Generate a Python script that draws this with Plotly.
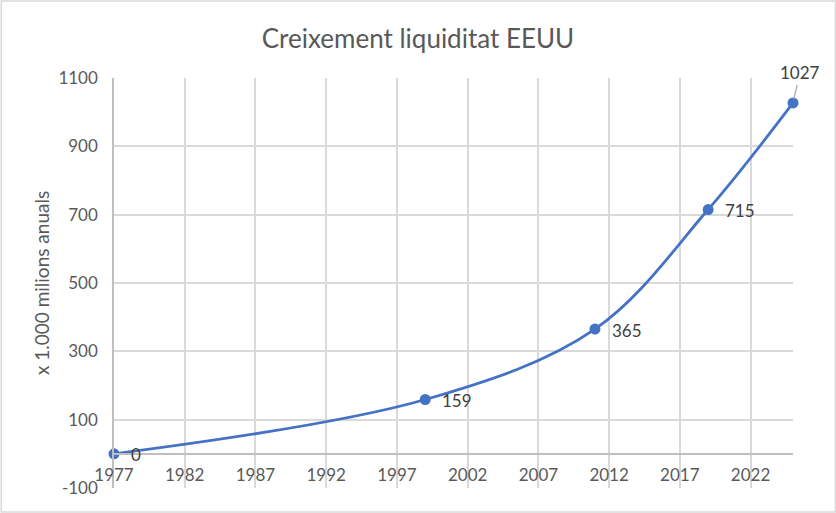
import plotly.graph_objects as go

# data
years = [1977, 1999, 2011, 2019, 2025]
liquidity = [0, 159, 365, 715, 1027]
labels = ["0", "159", "365", "715", "1027"]

x_ticks = [1977, 1982, 1987, 1992, 1997, 2002, 2007, 2012, 2017, 2022]
y_ticks = [-100, 100, 300, 500, 700, 900, 1100]
y_tick_text = ["-100", "100", "300", "500", "700", "900", "1100"]

BLUE = "#4472C4"
GRID = "#d9d9d9"
FONT = "Lato, Calibri, sans-serif"

fig = go.Figure()

fig.add_trace(go.Scatter(
    x=years,
    y=liquidity,
    mode="lines+markers",
    line=dict(color=BLUE, width=2.8, shape="spline", smoothing=1.0),
    marker=dict(color=BLUE, size=11),
    cliponaxis=False,
    hoverinfo="x+y",
))

# data labels: right of the points, the last one above with a leader line
for yr, val, lab in zip(years[:-1], liquidity[:-1], labels[:-1]):
    fig.add_annotation(x=yr, y=val, text=lab, showarrow=False,
                       xanchor="left", xshift=15, yshift=-1,
                       font=dict(family=FONT, size=17, color="#404040"))

fig.add_annotation(
    x=years[-1], y=liquidity[-1], text=labels[-1],
    showarrow=True, arrowhead=0, arrowwidth=1.2, arrowcolor="#a6a6a6",
    ax=7, ay=-30, standoff=4,
    font=dict(family=FONT, size=17, color="#404040"),
)

# chart border
fig.add_shape(type="rect", xref="paper", yref="paper",
              x0=-0.166, x1=1.0625, y0=-0.0585, y1=1.188,
              line=dict(color="#d9d9d9", width=1.5), layer="below")

fig.update_layout(
    width=836, height=513,
    margin=dict(l=114, r=43, t=78, b=25),
    paper_bgcolor="white", plot_bgcolor="white",
    showlegend=False,
    title=dict(text="Creixement liquiditat EEUU", x=0.5, xanchor="center",
               y=0.925, yanchor="middle",
               font=dict(family=FONT, size=26, color="#595959")),
    font=dict(family=FONT, color="#595959"),
)

fig.update_xaxes(
    range=[1977, 2025],
    tickmode="array", tickvals=x_ticks,
    showgrid=True, gridcolor=GRID, gridwidth=1.5,
    zeroline=False,
    showline=True, linecolor="#bfbfbf", linewidth=1.5,
    anchor="free", position=100 / 1200,
    ticks="", ticklabelstandoff=6,
    tickfont=dict(family=FONT, size=17, color="#595959"),
)

fig.update_yaxes(
    range=[-100, 1100],
    tickmode="array", tickvals=y_ticks, ticktext=y_tick_text,
    showgrid=True, gridcolor=GRID, gridwidth=1.5,
    zeroline=False,
    showline=True, linecolor="#bfbfbf", linewidth=1.5,
    ticks="", ticklabelstandoff=11,
    tickfont=dict(family=FONT, size=17, color="#595959"),
    title=dict(text="x 1.000 milions anuals", standoff=4,
               font=dict(family=FONT, size=19, color="#595959")),
)

fig.write_html("out.html", config={"displayModeBar": False},
               post_script="document.body.style.margin='0';")
